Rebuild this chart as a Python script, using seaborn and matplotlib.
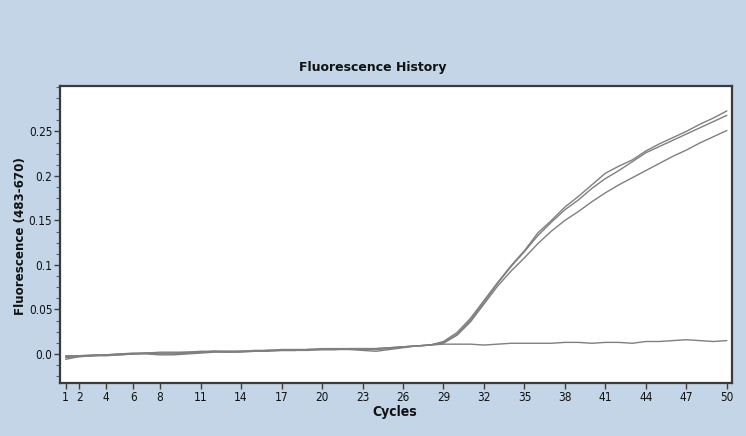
import numpy as np
import pandas as pd
import matplotlib
matplotlib.use("Agg")
import matplotlib.pyplot as plt
import seaborn as sns
from matplotlib.ticker import MultipleLocator, FixedLocator
from matplotlib import font_manager as fm

cycles = list(range(1, 51))

well_a = [-0.004, -0.003, -0.002, -0.001, -0.001, 0.000, 0.001, 0.001, 0.001, 0.002,
          0.003, 0.003, 0.003, 0.003, 0.004, 0.004, 0.005, 0.005, 0.005, 0.006,
          0.006, 0.006, 0.006, 0.006, 0.007, 0.008, 0.009, 0.010, 0.014, 0.024,
          0.040, 0.060, 0.080, 0.099, 0.116, 0.136, 0.150, 0.165, 0.177, 0.190,
          0.203, 0.211, 0.218, 0.228, 0.236, 0.243, 0.250, 0.258, 0.265, 0.273]
well_b = [-0.003, -0.002, -0.002, -0.001, 0.000, 0.000, 0.001, 0.000, 0.000, 0.001,
          0.002, 0.003, 0.002, 0.003, 0.003, 0.004, 0.004, 0.004, 0.005, 0.005,
          0.005, 0.006, 0.005, 0.005, 0.006, 0.008, 0.009, 0.010, 0.013, 0.022,
          0.038, 0.058, 0.079, 0.098, 0.115, 0.133, 0.148, 0.162, 0.173, 0.186,
          0.197, 0.206, 0.216, 0.226, 0.233, 0.240, 0.247, 0.254, 0.261, 0.268]
well_c = [-0.006, -0.003, -0.002, -0.002, -0.001, 0.000, 0.000, -0.001, -0.001, 0.000,
          0.001, 0.002, 0.002, 0.002, 0.003, 0.003, 0.004, 0.004, 0.004, 0.005,
          0.005, 0.005, 0.004, 0.003, 0.005, 0.007, 0.009, 0.010, 0.012, 0.021,
          0.036, 0.056, 0.076, 0.093, 0.108, 0.124, 0.138, 0.150, 0.160, 0.171,
          0.181, 0.190, 0.198, 0.206, 0.214, 0.222, 0.229, 0.237, 0.244, 0.251]
well_d = [-0.002, -0.002, -0.001, -0.001, 0.000, 0.001, 0.001, 0.002, 0.002, 0.002,
          0.002, 0.003, 0.003, 0.003, 0.003, 0.004, 0.004, 0.004, 0.005, 0.005,
          0.005, 0.006, 0.006, 0.006, 0.007, 0.008, 0.009, 0.010, 0.011, 0.011,
          0.011, 0.010, 0.011, 0.012, 0.012, 0.012, 0.012, 0.013, 0.013, 0.012,
          0.013, 0.013, 0.012, 0.014, 0.014, 0.015, 0.016, 0.015, 0.014, 0.015]

x_ticks = [1, 2, 4, 6, 8, 11, 14, 17, 20, 23, 26, 29, 32, 35, 38, 41, 44, 47, 50]
y_ticks = [0.0, 0.05, 0.1, 0.15, 0.2, 0.25]
y_tick_labels = ["0.0", "0.05", "0.1", "0.15", "0.2", "0.25"]

title = "Fluorescence History"
x_label = "Cycles"
y_label = "Fluorescence (483-670)"

df = pd.DataFrame({
    "Cycle": cycles * 4,
    "Fluor": well_a + well_b + well_c + well_d,
    "Well": ["A"] * 50 + ["B"] * 50 + ["C"] * 50 + ["D"] * 50,
})

sns.set_style("white")
plt.rcParams["font.family"] = ["DejaVu Sans"]

narrow = fm.FontProperties(family="DejaVu Sans", stretch="condensed", size=8.5)
narrow_bold = fm.FontProperties(family="DejaVu Sans", stretch="condensed",
                                weight="bold", size=10)

bg = "#c3d5e6"
fig = plt.figure(figsize=(7.46, 4.36), dpi=100, facecolor=bg)
ax = fig.add_axes([0.0804, 0.1216, 0.9006, 0.6812])
ax.set_facecolor("white")

sns.lineplot(data=df, x="Cycle", y="Fluor", hue="Well",
             palette=["#7f7f7f"] * 4, linewidth=1.0, legend=False, ax=ax)

ax.set_xlim(0.58, 50.37)
ax.set_ylim(-0.0326, 0.301)
ax.xaxis.set_major_locator(FixedLocator(x_ticks))
ax.set_xticklabels([str(t) for t in x_ticks])
ax.set_yticks(y_ticks)
ax.set_yticklabels(y_tick_labels)
ax.yaxis.set_minor_locator(MultipleLocator(0.0125))

ax.tick_params(axis="both", which="major", direction="out", length=4.5, width=1,
               color="#404040", labelcolor="#111111", pad=1,
               left=True, bottom=True)
ax.tick_params(axis="y", which="minor", direction="out", length=3, width=0.8,
               color="#606060", left=True)
for lab in ax.get_xticklabels() + ax.get_yticklabels():
    lab.set_fontproperties(narrow)

for s in ax.spines.values():
    s.set_color("#3a3a3a")
    s.set_linewidth(1.6)

ax.set_xlabel("")
ax.set_ylabel("")
fig.text(0.529, 0.055, x_label, ha="center", va="center",
         fontproperties=narrow_bold, color="#111111")
fig.text(0.028, 0.459, y_label, ha="center", va="center", rotation=90,
         fontsize=8.6, fontweight="bold", family=["DejaVu Sans"],
         color="#111111")
fig.text(0.5, 0.845, title, ha="center", va="center", fontsize=9,
         fontweight="bold", family=["DejaVu Sans"], color="#111111")

fig.savefig("out.png", dpi=100, facecolor=bg)
